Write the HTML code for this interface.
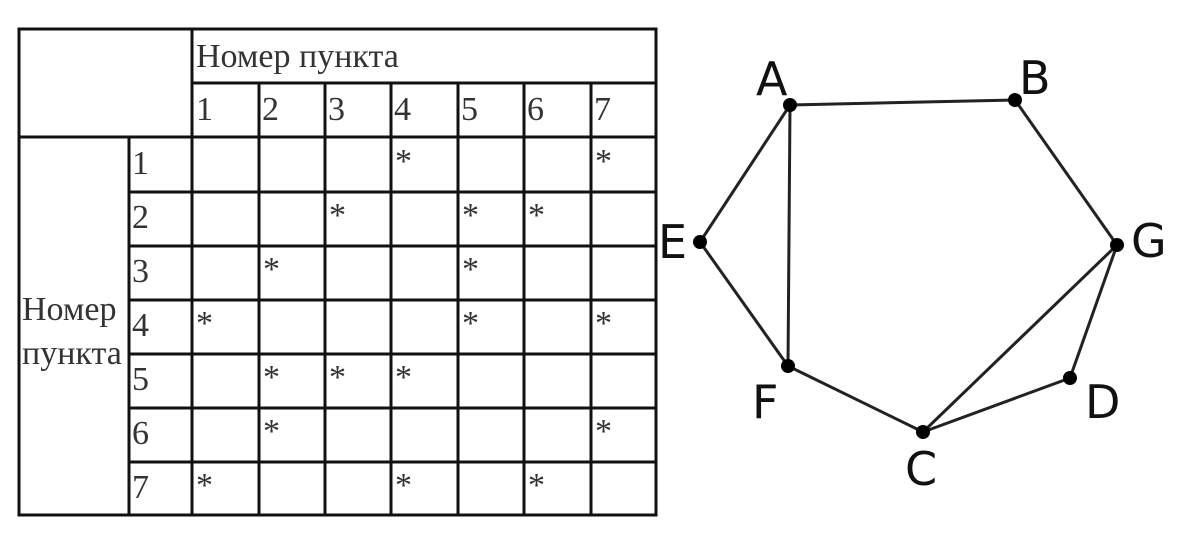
<!DOCTYPE html><html><head><style>
body{margin:0;background:#fff;width:1194px;height:542px;position:relative;overflow:hidden}
.t{position:absolute;font-family:"Liberation Serif",serif;font-size:34px;color:#333;line-height:1}
</style></head><body>
<svg width="1194" height="542" style="position:absolute;left:0;top:0">
<g stroke="#111" stroke-width="3" fill="none">
<rect x="19" y="29" width="637" height="486"/>
<line x1="192" y1="29" x2="192" y2="515"/>
<line x1="192" y1="83" x2="656" y2="83"/>
<line x1="19" y1="137" x2="656" y2="137"/>
<line x1="129" y1="137" x2="129" y2="515"/>
<line x1="129" y1="192" x2="656" y2="192"/>
<line x1="129" y1="246" x2="656" y2="246"/>
<line x1="129" y1="300" x2="656" y2="300"/>
<line x1="129" y1="354" x2="656" y2="354"/>
<line x1="129" y1="408" x2="656" y2="408"/>
<line x1="129" y1="462" x2="656" y2="462"/>
<line x1="259" y1="83" x2="259" y2="515"/>
<line x1="325" y1="83" x2="325" y2="515"/>
<line x1="391" y1="83" x2="391" y2="515"/>
<line x1="458" y1="83" x2="458" y2="515"/>
<line x1="524" y1="83" x2="524" y2="515"/>
<line x1="591" y1="83" x2="591" y2="515"/>
</g>
<g stroke="#222" stroke-width="3">
<line x1="790" y1="105" x2="1015" y2="100"/>
<line x1="1015" y1="100" x2="1117" y2="245"/>
<line x1="1117" y1="245" x2="1070" y2="378"/>
<line x1="1070" y1="378" x2="923" y2="432"/>
<line x1="1117" y1="245" x2="923" y2="432"/>
<line x1="923" y1="432" x2="788" y2="366"/>
<line x1="788" y1="366" x2="700" y2="242"/>
<line x1="700" y1="242" x2="790" y2="105"/>
<line x1="790" y1="105" x2="788" y2="366"/>
</g>
<g fill="#000">
<circle cx="790" cy="105" r="7"/><circle cx="1015" cy="100" r="7"/><circle cx="1117" cy="245" r="7"/>
<circle cx="1070" cy="378" r="7"/><circle cx="923" cy="432" r="7"/><circle cx="788" cy="366" r="7"/><circle cx="700" cy="242" r="7"/>
</g>
<g font-family="DejaVu Sans, Liberation Sans, sans-serif" font-size="46" fill="#111">
<text x="756" y="95">A</text><text x="1019" y="94">B</text><text x="658" y="258">E</text>
<text x="1131" y="257">G</text><text x="752" y="418">F</text><text x="1085" y="418">D</text><text x="905" y="485">C</text>
</g>
</svg>
<div class="t" style="left:196px;top:40px">Номер пункта</div>
<div class="t" style="left:22px;top:288px;line-height:44px">Номер<br>пункта</div>
<div class="t" style="left:196px;top:93px">1</div><div class="t" style="left:262px;top:93px">2</div><div class="t" style="left:328px;top:93px">3</div><div class="t" style="left:394px;top:93px">4</div><div class="t" style="left:461px;top:93px">5</div><div class="t" style="left:527px;top:93px">6</div><div class="t" style="left:594px;top:93px">7</div>
<div class="t" style="left:132px;top:147px">1</div><div class="t" style="left:132px;top:201px">2</div><div class="t" style="left:132px;top:255px">3</div><div class="t" style="left:132px;top:309px">4</div><div class="t" style="left:132px;top:363px">5</div><div class="t" style="left:132px;top:417px">6</div><div class="t" style="left:132px;top:471px">7</div>
<div class="t" style="left:395px;top:145px">*</div><div class="t" style="left:595px;top:145px">*</div>
<div class="t" style="left:329px;top:199px">*</div><div class="t" style="left:462px;top:199px">*</div><div class="t" style="left:528px;top:199px">*</div>
<div class="t" style="left:263px;top:253px">*</div><div class="t" style="left:462px;top:253px">*</div>
<div class="t" style="left:196px;top:307px">*</div><div class="t" style="left:462px;top:307px">*</div><div class="t" style="left:595px;top:307px">*</div>
<div class="t" style="left:263px;top:361px">*</div><div class="t" style="left:329px;top:361px">*</div><div class="t" style="left:395px;top:361px">*</div>
<div class="t" style="left:263px;top:415px">*</div><div class="t" style="left:595px;top:415px">*</div>
<div class="t" style="left:196px;top:469px">*</div><div class="t" style="left:395px;top:469px">*</div><div class="t" style="left:528px;top:469px">*</div>
</body></html>
